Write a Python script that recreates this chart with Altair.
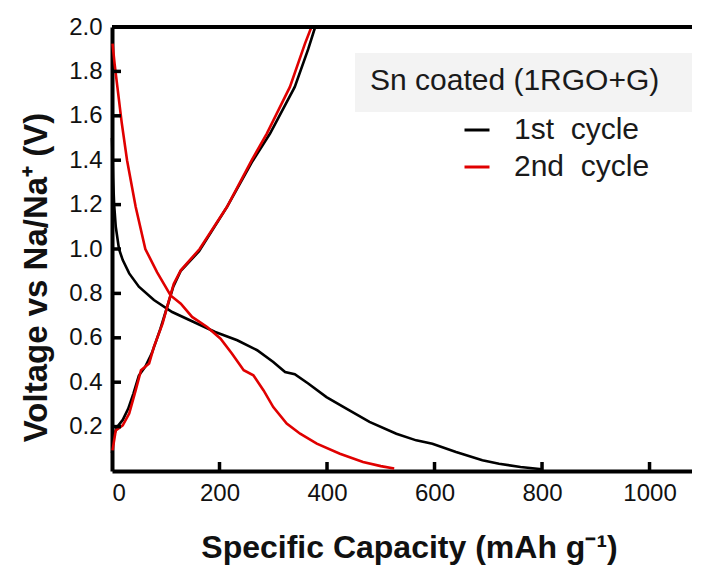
import altair as alt
import pandas as pd

# ---- data ----
S1 = "1st\u00a0 cycle"
S2 = "2nd\u00a0 cycle"

cap1_dis = [0, 1, 2, 4, 7, 13, 20, 32, 50, 78, 112, 152, 192, 233, 270, 300, 322, 340, 365, 399, 436, 479, 529, 566, 596, 640, 689, 720, 760, 800]
v1_dis = [1.5, 1.42, 1.32, 1.2, 1.1, 1.0, 0.95, 0.89, 0.83, 0.77, 0.716, 0.671, 0.626, 0.589, 0.544, 0.491, 0.446, 0.436, 0.394, 0.333, 0.281, 0.221, 0.168, 0.138, 0.123, 0.086, 0.048, 0.033, 0.018, 0.008]

cap1_chg = [0, 3, 10, 20, 30, 40, 50, 62, 74, 90, 104, 114, 128, 162, 214, 260, 294, 340, 365, 378]
v1_chg = [0.08, 0.16, 0.2, 0.23, 0.28, 0.35, 0.43, 0.47, 0.53, 0.64, 0.75, 0.83, 0.902, 0.99, 1.19, 1.39, 1.52, 1.73, 1.9, 2.0]

cap2_dis = [1, 5, 10, 18, 28, 44, 62, 84, 109, 128, 149, 177, 202, 223, 245, 263, 282, 300, 325, 350, 381, 424, 467, 500, 525]
v2_dis = [1.925, 1.83, 1.73, 1.57, 1.40, 1.19, 1.0, 0.895, 0.791, 0.754, 0.694, 0.649, 0.596, 0.529, 0.454, 0.431, 0.363, 0.288, 0.214, 0.168, 0.123, 0.078, 0.041, 0.022, 0.011]

cap2_chg = [1, 7, 20, 32, 44, 54, 69, 78, 94, 106, 115, 128, 163, 214, 260, 288, 331, 359, 371]
v2_chg = [0.093, 0.183, 0.206, 0.259, 0.363, 0.454, 0.484, 0.559, 0.664, 0.769, 0.844, 0.904, 1.0, 1.19, 1.40, 1.52, 1.73, 1.925, 2.0]

x_ticks = [200, 400, 600, 800, 1000]
x_labels = [0, 200, 400, 600, 800, 1000]
y_ticks = [0.2, 0.4, 0.6, 0.8, 1.0, 1.2, 1.4, 1.6, 1.8]
y_labels = [0.2, 0.4, 0.6, 0.8, 1.0, 1.2, 1.4, 1.6, 1.8, 2.0]

legend_title = "Sn coated (1RGO+G)"
x_title = "Specific Capacity (mAh g\u207b\u00b9)"
y_title = "Voltage vs Na/Na\u207a (V)"


def seg(caps, volts, cycle, name):
    return pd.DataFrame({"cap": caps, "v": volts, "cycle": cycle, "seg": name,
                         "i": list(range(len(caps)))})


df1 = pd.concat([seg(cap1_dis, v1_dis, S1, "d1"), seg(cap1_chg, v1_chg, S1, "c1")])
df2 = pd.concat([seg(cap2_dis, v2_dis, S2, "d2"), seg(cap2_chg, v2_chg, S2, "c2")])

W, H = 580, 444
FONT = "Liberation Sans"
XMAX = 1079

xscale = alt.Scale(domain=[0, XMAX], nice=False, zero=False)
yscale = alt.Scale(domain=[0, 2.0], nice=False, zero=False)
cscale = alt.Scale(domain=[S1, S2], range=["#000000", "#e00000"])

xaxis = alt.Axis(values=x_labels, format="d", grid=False, ticks=False,
                 domainWidth=4, domainColor="#000000",
                 labelFontSize=24, labelFont=FONT, labelColor="#111111", labelPadding=10,
                 title=x_title, titleFontSize=32, titleFont=FONT, titleFontWeight="bold",
                 titleColor="#111111", titleX=297, titleY=86, titleBaseline="alphabetic",
                 titleAlign="center")
yaxis = alt.Axis(values=y_labels, format=".1f", grid=False, ticks=False,
                 domainWidth=4, domainColor="#000000",
                 labelFontSize=24, labelFont=FONT, labelColor="#111111", labelPadding=10,
                 title=y_title, titleFontSize=33, titleFont=FONT, titleFontWeight="bold",
                 titleColor="#111111", titleX=-76, titleY=250, titleAngle=270,
                 titleAlign="center", titleBaseline="middle")

legend = alt.Legend(orient="none", legendX=258, legendY=39, padding=0,
                    title=legend_title, titleFontSize=30, titleFont=FONT,
                    titleFontWeight="normal", titleColor="#1a1a1a", titleLimit=500,
                    titlePadding=19,
                    labelFontSize=30, labelFont=FONT, labelColor="#1a1a1a", labelLimit=400,
                    symbolType="stroke", symbolStrokeWidth=3, symbolSize=625,
                    symbolOffset=92, labelOffset=22, rowPadding=7)

box = alt.Chart(pd.DataFrame({"k": [0]})).mark_rect(color="#f3f3f3").encode(
    x=alt.value(243), x2=alt.value(580), y=alt.value(26), y2=alt.value(85))

line1 = alt.Chart(df1).mark_line(strokeWidth=2.6).encode(
    x=alt.X("cap:Q", scale=xscale, axis=xaxis),
    y=alt.Y("v:Q", scale=yscale, axis=yaxis),
    color=alt.Color("cycle:N", scale=cscale, legend=legend),
    detail="seg:N",
    order="i:Q",
)
line2 = alt.Chart(df2).mark_line(strokeWidth=2.6).encode(
    x=alt.X("cap:Q", scale=xscale),
    y=alt.Y("v:Q", scale=yscale),
    color=alt.Color("cycle:N", scale=cscale, legend=legend),
    detail="seg:N",
    order="i:Q",
)

# inward tick marks (9 px long), drawn through the scales
tick_dy = 2.0 * 9 / H
tick_dx = XMAX * 9 / W
xt = alt.Chart(pd.DataFrame({"tx": x_ticks, "y0": 0.0, "y1": tick_dy})).mark_rule(
    color="#000000", strokeWidth=3.5).encode(
    x=alt.X("tx:Q", scale=xscale), y=alt.Y("y0:Q", scale=yscale), y2="y1:Q")
yt = alt.Chart(pd.DataFrame({"ty": y_ticks, "x0": 0.0, "x1": tick_dx})).mark_rule(
    color="#000000", strokeWidth=3.5).encode(
    y=alt.Y("ty:Q", scale=yscale), x=alt.X("x0:Q", scale=xscale), x2="x1:Q")
top = alt.Chart(pd.DataFrame({"tt": [2.0], "x0": 0.0, "x1": float(XMAX)})).mark_rule(
    color="#000000", strokeWidth=4).encode(
    y=alt.Y("tt:Q", scale=yscale), x=alt.X("x0:Q", scale=xscale), x2="x1:Q")

chart = alt.layer(box, line1, line2, xt, yt, top).properties(
    width=W, height=H,
    autosize=alt.AutoSizeParams(type="none"),
    padding={"left": 104, "top": 19, "right": 0, "bottom": 98},
).configure_view(stroke=None).configure(background="#ffffff")

chart.save("out.html", embed_options={"renderer": "svg", "actions": False})
